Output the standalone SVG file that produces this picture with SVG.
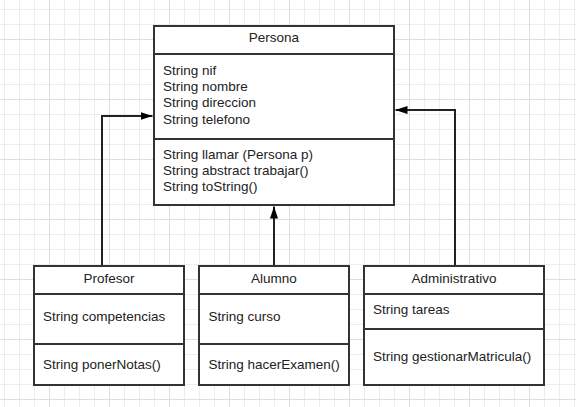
<svg xmlns="http://www.w3.org/2000/svg" width="576" height="407" viewBox="0 0 576 407">
<defs>
<pattern id="grid" patternUnits="userSpaceOnUse" x="0" y="0" width="60" height="60">
<path d="M4.5 0V60M19.5 0V60M34.5 0V60M0 9.5H60M0 24.5H60M0 54.5H60" stroke="#ededed" stroke-width="1" fill="none"/>
<path d="M49.5 0V60M0 39.5H60" stroke="#dedede" stroke-width="1" fill="none"/>
</pattern>
<marker id="arr" viewBox="0 0 12 8" refX="12" refY="4" markerWidth="12" markerHeight="8" markerUnits="userSpaceOnUse" orient="auto">
<path d="M0 0L12 4L0 8Z" fill="#000"/>
</marker>
</defs>
<style>
.box{fill:#fff;stroke:#333;stroke-width:2}
.sep{stroke:#333;stroke-width:2}
text{font-family:"Liberation Sans",Arial,sans-serif;font-size:13.5px;fill:#222}
.t{text-anchor:middle}
.conn{fill:none;stroke:#222;stroke-width:2}
</style>
<rect width="576" height="407" fill="#fff"/>
<rect width="576" height="407" fill="url(#grid)"/>
<g id="connectors">
<path class="conn" d="M102 265V116H152.5" marker-end="url(#arr)"/>
<path class="conn" d="M274 265V206.5" marker-end="url(#arr)"/>
<path class="conn" d="M455 265V110H395.5" marker-end="url(#arr)"/>
</g>
<g id="persona">
<rect class="box" x="154" y="26" width="240" height="179"/>
<line class="sep" x1="154" y1="54" x2="394" y2="54"/>
<line class="sep" x1="154" y1="139" x2="394" y2="139"/>
<text class="t" x="274" y="42">Persona</text>
<text x="163" y="74.5">String nif</text>
<text x="163" y="91">String nombre</text>
<text x="163" y="107.3">String direccion</text>
<text x="163" y="123.5">String telefono</text>
<text x="163" y="159">String llamar (Persona p)</text>
<text x="163" y="175">String abstract trabajar()</text>
<text x="163" y="191">String toString()</text>
</g>
<g id="profesor">
<rect class="box" x="34" y="266" width="150" height="119"/>
<line class="sep" x1="34" y1="294" x2="184" y2="294"/>
<line class="sep" x1="34" y1="344" x2="184" y2="344"/>
<text class="t" x="109" y="282.5">Profesor</text>
<text x="43" y="321">String competencias</text>
<text x="43" y="368.5">String ponerNotas()</text>
</g>
<g id="alumno">
<rect class="box" x="199" y="266" width="150" height="119"/>
<line class="sep" x1="199" y1="294" x2="349" y2="294"/>
<line class="sep" x1="199" y1="344" x2="349" y2="344"/>
<text class="t" x="274" y="282.5">Alumno</text>
<text x="208.5" y="321">String curso</text>
<text x="208.5" y="368.5">String hacerExamen()</text>
</g>
<g id="administrativo">
<rect class="box" x="364" y="266" width="180" height="119"/>
<line class="sep" x1="364" y1="294" x2="544" y2="294"/>
<line class="sep" x1="364" y1="329" x2="544" y2="329"/>
<text class="t" x="454" y="282.5">Administrativo</text>
<text x="373" y="314">String tareas</text>
<text x="373" y="360.5">String gestionarMatricula()</text>
</g>
</svg>
